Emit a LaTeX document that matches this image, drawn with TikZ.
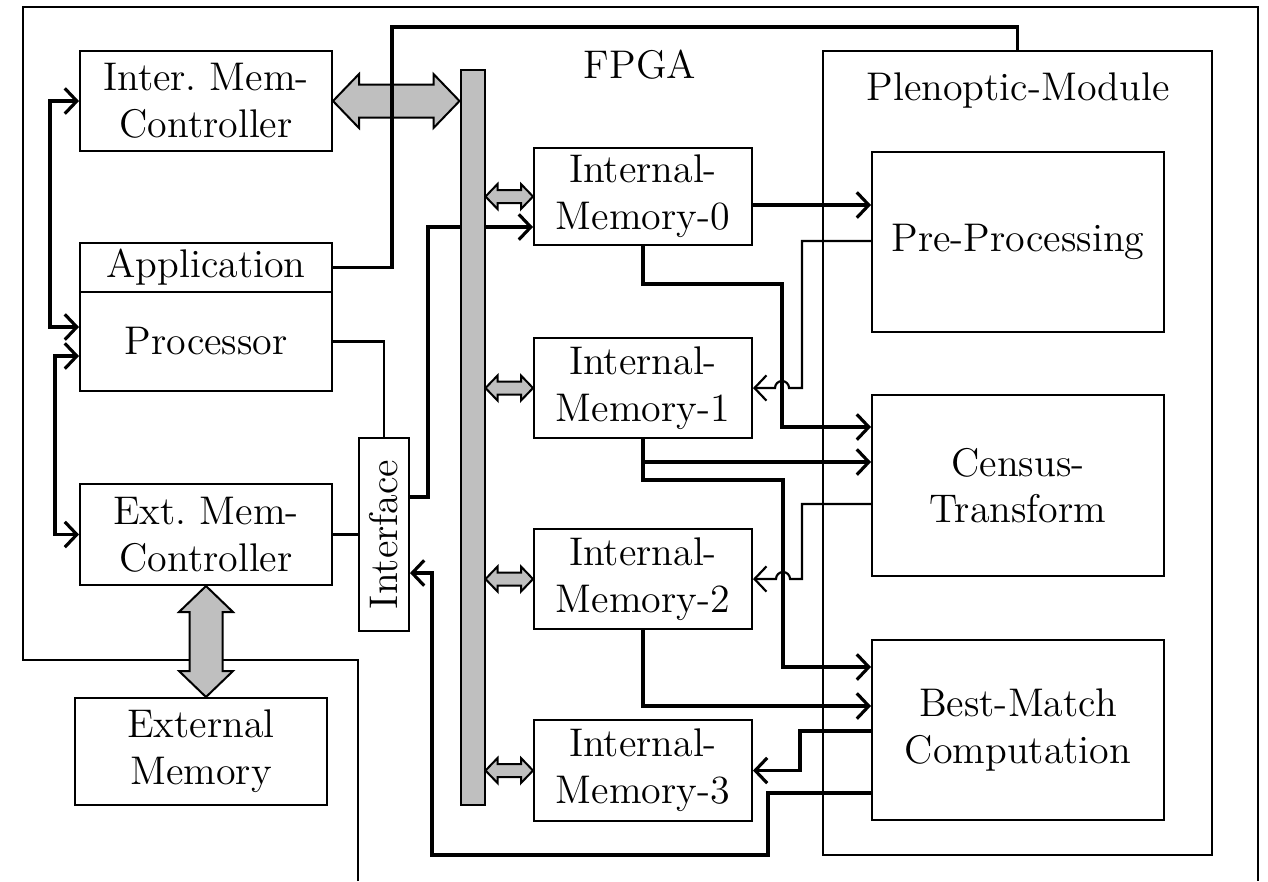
\documentclass[tikz,border=0pt]{standalone}
\usetikzlibrary{arrows.meta,calc}
\pgfdeclarelayer{bg}
\pgfsetlayers{bg,main}
\newcommand\pxu{0.3pt}
\newcommand\hdblarrow[5]{%
  \draw[garrow] (#1) -- ($(#1)+(#5,-#4)$) -- ($(#1)+(#5,-#3)$) -- ($(#2)+(-#5,-#3)$) -- ($(#2)+(-#5,-#4)$) -- (#2) -- ($(#2)+(-#5,#4)$) -- ($(#2)+(-#5,#3)$) -- ($(#1)+(#5,#3)$) -- ($(#1)+(#5,#4)$) -- cycle;}
\newcommand\vdblarrow[5]{%
  \draw[garrow] (#1) -- ($(#1)+(#4,#5)$) -- ($(#1)+(#3,#5)$) -- ($(#2)+(#3,-#5)$) -- ($(#2)+(#4,-#5)$) -- (#2) -- ($(#2)+(-#4,-#5)$) -- ($(#2)+(-#3,-#5)$) -- ($(#1)+(-#3,#5)$) -- ($(#1)+(-#4,#5)$) -- cycle;}
\begin{document}
\begin{tikzpicture}[x=0.3pt,y=-0.3pt,
  box/.style={draw, line width=0.6pt, fill=white, inner sep=0pt, align=center, font=\large},
  thin/.style={line width=0.65pt},
  thk/.style={line width=0.95pt},
  frame/.style={line width=0.8pt},
  garrow/.style={draw, line width=0.6pt, fill=gray!50, line join=miter},
  bt/.tip={Straight Barb[length=3.6pt,width=7.6pt]},
]
\useasboundingbox (0,0) rectangle (1268,881);

% FPGA frame
\draw[frame] (358,881) -- (358,660) -- (23,660) -- (23,7) -- (1258,7) -- (1258,881);
\node[font=\large] (fpga) at (640,65) {FPGA};

% left boxes
\node[box, minimum width=252*\pxu, minimum height=100*\pxu] (imc) at (206,101) {Inter.\ Mem-\\Controller};
\node[box, minimum width=252*\pxu, minimum height=49*\pxu] (app) at (206,267.5) {Application};
\node[box, minimum width=252*\pxu, minimum height=99*\pxu] (proc) at (206,341.5) {Processor};
\node[box, minimum width=252*\pxu, minimum height=101*\pxu] (emc) at (206,534.5) {Ext.\ Mem-\\Controller};
\node[box, minimum width=252*\pxu, minimum height=107*\pxu] (extm) at (201,751.5) {External\\Memory};
\node[box, minimum width=50*\pxu, minimum height=193*\pxu] (iface) at (384,534.5) {\rotatebox{90}{Interface}};

% bus
\node[draw, line width=0.6pt, fill=gray!50, inner sep=0pt, minimum width=24*\pxu, minimum height=735*\pxu] (bus) at (472.5,437.5) {};

% internal memories
\node[box, minimum width=218*\pxu, minimum height=97*\pxu] (im0) at (643,196.5) {Internal-\\Memory-0};
\node[box, minimum width=218*\pxu, minimum height=100*\pxu] (im1) at (643,388) {Internal-\\Memory-1};
\node[box, minimum width=218*\pxu, minimum height=100*\pxu] (im2) at (643,579) {Internal-\\Memory-2};
\node[box, minimum width=218*\pxu, minimum height=101*\pxu] (im3) at (643,770.5) {Internal-\\Memory-3};

% plenoptic module
\node[draw, line width=0.6pt, inner sep=0pt, minimum width=389*\pxu, minimum height=804*\pxu] (plen) at (1017.5,453) {};
\node[font=\large] (plenlbl) at (1018,90) {Plenoptic-Module};
\node[box, minimum width=292*\pxu, minimum height=180*\pxu] (pre) at (1018,242) {Pre-Processing};
\node[box, minimum width=292*\pxu, minimum height=181*\pxu] (cen) at (1018,485.5) {Census-\\Transform};
\node[box, minimum width=292*\pxu, minimum height=180*\pxu] (bm) at (1018,730) {Best-Match\\Computation};

% helper coordinates
\coordinate (x50) at (50,0);
\coordinate (x55) at (55,0);
\coordinate (y327) at (0,327);
\coordinate (y356) at (0,356);
\coordinate (c27) at (392,27);
\coordinate (y497) at (0,497);
\coordinate (c428) at (428,227);
\coordinate (y793) at (0,793);
\coordinate (c768) at (768,855);
\coordinate (c432) at (432,573);
\coordinate (y731) at (0,731);
\coordinate (c800) at (800,770.5);
\coordinate (y205) at (0,205);
\coordinate (y241) at (0,241);
\coordinate (c10a) at (802,388);
\coordinate (c10b) at (789,388);
\coordinate (c782a) at (782,284);
\coordinate (y427) at (0,427);
\coordinate (y462) at (0,462);
\coordinate (c783b) at (783,480);
\coordinate (y667) at (0,667);
\coordinate (y504) at (0,504);
\coordinate (c13a) at (802,579);
\coordinate (c13b) at (790,579);
\coordinate (y706) at (0,706);

% gray bus arrows
\hdblarrow{imc.east}{bus.west |- imc.east}{16.5}{27}{26}
\vdblarrow{emc.south}{extm.north -| emc.south}{16.5}{27}{26}
\hdblarrow{bus.east |- im0.west}{im0.west}{6.5}{12.5}{12}
\hdblarrow{bus.east |- im1.west}{im1.west}{6.5}{12.5}{12}
\hdblarrow{bus.east |- im2.west}{im2.west}{6.5}{12.5}{12}
\hdblarrow{bus.east |- im3.west}{im3.west}{6.5}{12.5}{12}

% connector behind the bus
\begin{pgfonlayer}{bg}
\draw[thk, -bt] (iface.east |- y497) -| (c428) -- (im0.west |- c428);
\end{pgfonlayer}

% left connectors
\draw[thk, bt-bt] (imc.west) -- (imc.west -| x50) |- (proc.west |- y327);
\draw[thk, bt-bt] (proc.west |- y356) -- (x55 |- y356) |- (emc.west);
\draw[thk] (app.east) -| (c27) -| (plen.north);
\draw[thin] (proc.east) -| (iface.north);
\draw[thin] (emc.east) -- (iface.west);

% returns to interface and memory 3
\draw[thk, -bt] (bm.west |- y793) -| (c768) -| (c432) -- (iface.east |- c432);
\draw[thk, -bt] (bm.west |- y731) -| (c800) -- (im3.east);

% memory <-> modules
\draw[thk, -bt] (im0.east |- y205) -- (pre.west |- y205);
\draw[thin, -bt] (pre.west |- y241) -| (c10a) -- (c10b) arc[start angle=0, end angle=-180, radius=7] -- (im1.east);
\draw[thk, -bt] (im0.south) |- (c782a) |- (cen.west |- y427);
\draw[thk, -bt] (im1.south) |- (cen.west |- y462);
\draw[thk, -bt] (im1.south) |- (c783b) |- (bm.west |- y667);
\draw[thin, -bt] (cen.west |- y504) -| (c13a) -- (c13b) arc[start angle=0, end angle=-180, radius=7] -- (im2.east);
\draw[thk, -bt] (im2.south) |- (bm.west |- y706);
\end{tikzpicture}
\end{document}
